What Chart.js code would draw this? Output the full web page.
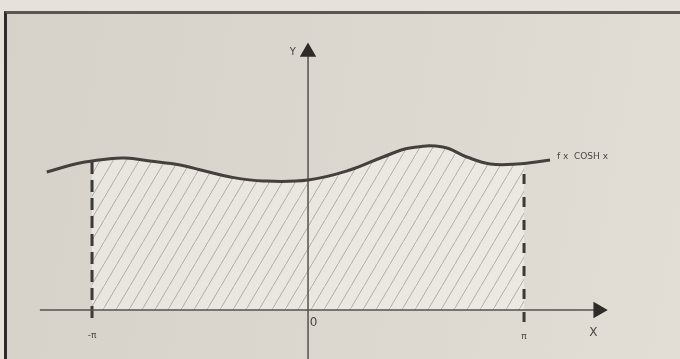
<!DOCTYPE html>
<html>
<head>
<meta charset="utf-8">
<script src="https://cdn.jsdelivr.net/npm/chart.js@4"></script>
<style>
    html, body { margin: 0; padding: 0; }
    body { width: 680px; height: 359px; background: #e6e2da; position: relative; overflow: hidden; }
    #frame {
        position: absolute; left: 4px; top: 11px; right: 0; bottom: 0;
        border-top: 3px solid #5a5650; border-left: 3px solid #2e2b28;
        background: linear-gradient(100deg, #d6d2ca 0%, #dcd8d0 55%, #e2ded6 100%);
    }
    #wrap { position: absolute; left: 0; top: 0; width: 680px; height: 359px; }
</style>
</head>
<body>
<div id="frame"></div>
<div id="wrap"><canvas id="chart" width="680" height="359"></canvas></div>
<script>
// curve f(x)
const curveX = [-3.80, -3.32, -2.92, -2.66, -2.30, -1.86, -1.50, -1.13, -0.65, 0, 0.61, 1.09, 1.48, 1.96, 2.31, 2.65, 3.04, 3.52];
const curveY = [1.38, 1.47, 1.51, 1.52, 1.49, 1.45, 1.39, 1.33, 1.29, 1.30, 1.40, 1.53, 1.62, 1.63, 1.53, 1.46, 1.46, 1.50];

// integration bounds and where the dashed verticals meet the curve
const boundX = [-Math.PI, Math.PI];
const boundTop = [1.50, 1.46];
const boundBottom = [-0.08, -0.12];

// axis extents
const xAxisRange = [-3.90, 4.22];
const yAxisRange = [-0.50, 2.58];

const tickLabels = ['-π', '0', 'π'];
const curveLabel = 'f x  COSH x';

const INK = '#3d3935';

function toPoints(xs, ys) {
    return xs.map((x, i) => ({ x, y: ys[i] }));
}

function makeHatch(ctx) {
    const tile = document.createElement('canvas');
    tile.width = 13;
    tile.height = 22;
    const t = tile.getContext('2d');
    t.fillStyle = 'rgba(250, 248, 242, 0.5)';
    t.fillRect(0, 0, 13, 22);
    t.strokeStyle = 'rgba(70, 65, 60, 0.35)';
    t.lineWidth = 1;
    t.beginPath();
    t.moveTo(0, 22);
    t.lineTo(13, 0);
    t.stroke();
    return ctx.createPattern(tile, 'repeat');
}

// hatched area under the curve between -π and π
const hatchPlugin = {
    id: 'hatch',
    beforeDatasetsDraw(chart) {
        const { ctx } = chart;
        const xs = chart.scales.x;
        const ys = chart.scales.y;
        const line = chart.getDatasetMeta(0).dataset;
        const left = xs.getPixelForValue(boundX[0]);
        const right = xs.getPixelForValue(boundX[1]);
        const base = ys.getPixelForValue(0);
        ctx.save();
        ctx.beginPath();
        ctx.rect(left, 0, right - left, base);
        ctx.clip();
        ctx.beginPath();
        line.path(ctx);
        const pts = chart.getDatasetMeta(0).data;
        ctx.lineTo(pts[pts.length - 1].x, base);
        ctx.lineTo(pts[0].x, base);
        ctx.closePath();
        ctx.fillStyle = makeHatch(ctx);
        ctx.fill();
        ctx.restore();
    }
};

// axis letters, tick labels and the curve name
const textPlugin = {
    id: 'texts',
    afterDatasetsDraw(chart) {
        const { ctx } = chart;
        const xs = chart.scales.x;
        const ys = chart.scales.y;
        const put = (text, x, y, size, align) => {
            ctx.font = `${size}px "DejaVu Sans", sans-serif`;
            ctx.fillStyle = '#4a4642';
            ctx.textAlign = align || 'center';
            ctx.textBaseline = 'middle';
            ctx.fillText(text, xs.getPixelForValue(x), ys.getPixelForValue(y));
        };
        put('Y', -0.22, 2.58, 10);
        put('X', 4.15, -0.23, 12);
        put(tickLabels[0], boundX[0], -0.26, 9);
        put(tickLabels[1], 0.08, -0.13, 12);
        put(tickLabels[2], boundX[1], -0.27, 9);
        put(curveLabel, 3.62, 1.53, 9, 'left');
    }
};

const datasets = [
    {
        label: 'curve',
        data: toPoints(curveX, curveY),
        borderColor: '#45403b',
        borderWidth: 3,
        tension: 0.4,
        pointRadius: 0
    },
    {
        label: 'x-axis',
        data: toPoints(xAxisRange, [0, 0]),
        borderColor: '#55514c',
        borderWidth: 1.5,
        pointStyle: 'triangle',
        pointRadius: [0, 8],
        rotation: 90,
        pointBackgroundColor: '#2e2b28',
        pointBorderColor: '#2e2b28'
    },
    {
        label: 'y-axis',
        data: toPoints([0, 0], yAxisRange),
        borderColor: '#55514c',
        borderWidth: 1.5,
        pointStyle: 'triangle',
        pointRadius: [0, 8],
        pointBackgroundColor: '#2e2b28',
        pointBorderColor: '#2e2b28'
    },
    {
        label: 'left bound',
        data: toPoints([boundX[0], boundX[0]], [boundBottom[0], boundTop[0]]),
        borderColor: INK,
        borderWidth: 3,
        borderDash: [12, 6],
        pointRadius: 0
    },
    {
        label: 'right bound',
        data: toPoints([boundX[1], boundX[1]], [boundBottom[1], boundTop[1]]),
        borderColor: INK,
        borderWidth: 3,
        borderDash: [10, 13],
        pointRadius: 0
    }
];

new Chart(document.getElementById('chart'), {
    type: 'line',
    data: { datasets },
    options: {
        responsive: false,
        animation: false,
        layout: { padding: 0, autoPadding: false },
        plugins: {
            legend: { display: false },
            tooltip: { enabled: false }
        },
        scales: {
            x: { type: 'linear', display: false, min: -4.48, max: 5.41 },
            y: { type: 'linear', display: false, min: -0.49, max: 3.10 }
        }
    },
    plugins: [hatchPlugin, textPlugin]
});
</script>
</body>
</html>
